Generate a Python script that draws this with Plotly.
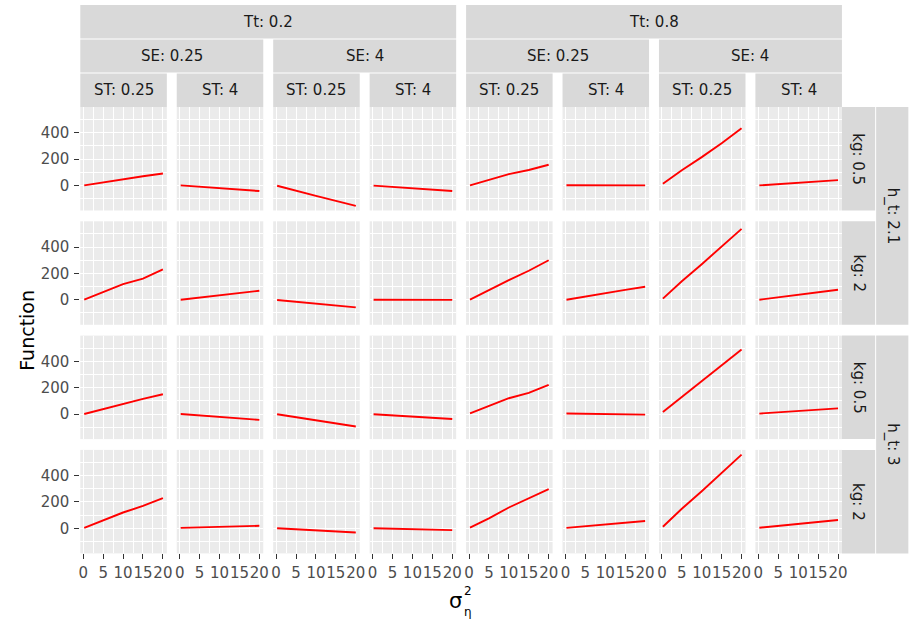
import plotly.graph_objects as go

# sigma_eta^2 sample points (x axis)
sigma_eta = [0.25, 5, 10, 15, 20]

# facet levels
tt_levels = ["0.2", "0.8"]
se_levels = ["0.25", "4"]
st_levels = ["0.25", "4"]
ht_levels = ["2.1", "3"]
kg_levels = ["0.5", "2"]

# Function values per panel row; columns ordered Tt > SE > ST
fn_ht21_kg05 = [
    [0, 24, 48, 70, 90],
    [0, -11, -22, -33, -43],
    [-3, -42, -80, -118, -155],
    [-2, -12, -22, -32, -42],
    [0, 44, 86, 117, 157],
    [1, 1, 0, 0, 0],
    [13, 115, 215, 321, 435],
    [0, 10, 20, 30, 40],
]
fn_ht21_kg2 = [
    [0, 60, 118, 160, 230],
    [0, 17, 34, 51, 68],
    [-2, -16, -30, -44, -58],
    [0, 0, -1, -1, -1],
    [0, 75, 148, 220, 300],
    [0, 25, 50, 75, 98],
    [8, 140, 270, 405, 538],
    [0, 19, 38, 57, 76],
]
fn_ht3_kg05 = [
    [0, 38, 78, 115, 150],
    [0, -12, -23, -34, -45],
    [-2, -25, -48, -72, -95],
    [-2, -11, -20, -29, -38],
    [5, 60, 120, 160, 222],
    [4, 2, 0, -2, -5],
    [15, 128, 245, 365, 490],
    [3, 13, 23, 33, 43],
]
fn_ht3_kg2 = [
    [3, 60, 120, 170, 230],
    [3, 7, 11, 15, 19],
    [0, -8, -16, -24, -32],
    [0, -4, -8, -11, -14],
    [5, 75, 158, 225, 298],
    [3, 16, 29, 42, 55],
    [12, 148, 282, 420, 560],
    [4, 19, 34, 49, 63],
]
rows = [fn_ht21_kg05, fn_ht21_kg2, fn_ht3_kg05, fn_ht3_kg2]

x_ticks = [0, 5, 10, 15, 20]
x_minor = [2.5, 7.5, 12.5, 17.5]
y_ticks = [0, 200, 400]
y_minor = [-100, 100, 300, 500]

# ---- geometry (pixels) ----
W, H = 909, 624
LEFT, COL_STEP, PW = 79, 97.3, 87.3
TOP, ROW_STEP, PH = 107, 114.3, 103.5
FONT = "DejaVu Sans"
STRIP_BG = "#D9D9D9"


def fx(px):
    return px / W


def fy(py):
    return 1 - py / H


# shared scales with 5% expansion, as ggplot does
all_vals = [v for r in rows for c in r for v in c]
ylo, yhi = min(all_vals), max(all_vals)
ypad = 0.05 * (yhi - ylo)
yrange = [ylo - ypad, yhi + ypad]
xlo, xhi = min(sigma_eta), max(sigma_eta)
xpad = 0.05 * (xhi - xlo)
xrange = [xlo - xpad, xhi + xpad]

fig = go.Figure()
layout = {}
tick_font = dict(family=FONT, size=15, color="#4D4D4D")

for r in range(4):
    for c in range(8):
        idx = r * 8 + c + 1
        sfx = "" if idx == 1 else str(idx)
        fig.add_trace(go.Scatter(
            x=sigma_eta, y=rows[r][c], mode="lines",
            line=dict(color="#FF0000", width=1.9),
            xaxis="x" + sfx, yaxis="y" + sfx, showlegend=False,
            hoverinfo="skip",
        ))
        x0 = LEFT + c * COL_STEP
        y0 = TOP + r * ROW_STEP
        layout["xaxis" + sfx] = dict(
            domain=[fx(x0), fx(x0 + PW)], anchor="y" + sfx, range=xrange,
            tickmode="array", tickvals=x_ticks, ticktext=[str(t) for t in x_ticks],
            showticklabels=(r == 3), ticks="outside" if r == 3 else "",
            ticklen=5, tickwidth=1.1, tickcolor="#333333", tickangle=0,
            ticklabelstandoff=1,
            tickfont=tick_font, showgrid=True, gridcolor="white", gridwidth=1.4,
            minor=dict(tickmode="array", tickvals=x_minor, showgrid=True,
                       gridcolor="white", gridwidth=0.7, ticks=""),
            zeroline=False, showline=False, fixedrange=True,
        )
        layout["yaxis" + sfx] = dict(
            domain=[fy(y0 + PH), fy(y0)], anchor="x" + sfx, range=yrange,
            tickmode="array", tickvals=y_ticks, ticktext=[str(t) for t in y_ticks],
            showticklabels=(c == 0), ticks="outside" if c == 0 else "",
            ticklen=5, tickwidth=1.1, tickcolor="#333333",
            ticklabelstandoff=2,
            tickfont=tick_font, showgrid=True, gridcolor="white", gridwidth=1.4,
            minor=dict(tickmode="array", tickvals=y_minor, showgrid=True,
                       gridcolor="white", gridwidth=0.7, ticks=""),
            zeroline=False, showline=False, fixedrange=True,
        )

shapes = []
annotations = []
strip_font = dict(family=FONT, size=15, color="#1A1A1A")


def strip(x0, x1, y0, y1, text, angle=0):
    shapes.append(dict(type="rect", xref="paper", yref="paper",
                       x0=fx(x0), x1=fx(x1), y0=fy(y1), y1=fy(y0),
                       fillcolor=STRIP_BG, line=dict(width=0), layer="below"))
    annotations.append(dict(xref="paper", yref="paper",
                            x=fx((x0 + x1) / 2), y=fy((y0 + y1) / 2),
                            text=text, showarrow=False, textangle=angle,
                            font=strip_font, xanchor="center", yanchor="middle"))


# column strips: Tt / SE / ST
for t, tt in enumerate(tt_levels):
    c0 = 4 * t
    strip(LEFT + c0 * COL_STEP, LEFT + (c0 + 3) * COL_STEP + PW, 5, 38.5, f"Tt: {tt}")
    for s, se in enumerate(se_levels):
        c1 = c0 + 2 * s
        strip(LEFT + c1 * COL_STEP, LEFT + (c1 + 1) * COL_STEP + PW, 39.5, 72.5, f"SE: {se}")
        for k, st in enumerate(st_levels):
            cc = c1 + k
            strip(LEFT + cc * COL_STEP, LEFT + cc * COL_STEP + PW, 73.5, TOP, f"ST: {st}")

# row strips: kg / h_t
RIGHT = LEFT + 7 * COL_STEP + PW
for h, ht in enumerate(ht_levels):
    r0 = 2 * h
    strip(RIGHT + 34.5, RIGHT + 67, TOP + r0 * ROW_STEP,
          TOP + (r0 + 1) * ROW_STEP + PH, f"h_t: {ht}", 90)
    for g, kg in enumerate(kg_levels):
        rr = r0 + g
        strip(RIGHT, RIGHT + 33.5, TOP + rr * ROW_STEP,
              TOP + rr * ROW_STEP + PH, f"kg: {kg}", 90)

# axis titles
annotations.append(dict(xref="paper", yref="paper", x=fx(25), y=fy(330),
                        text="Function", showarrow=False, textangle=-90,
                        font=dict(family=FONT, size=19, color="black"),
                        xanchor="center", yanchor="middle"))
annotations.append(dict(xref="paper", yref="paper", x=fx(458), y=fy(601),
                        text="σ", showarrow=False,
                        font=dict(family=FONT, size=21, color="black"),
                        xanchor="center", yanchor="middle"))
annotations.append(dict(xref="paper", yref="paper", x=fx(470), y=fy(591),
                        text="2", showarrow=False,
                        font=dict(family=FONT, size=12, color="black"),
                        xanchor="center", yanchor="middle"))
annotations.append(dict(xref="paper", yref="paper", x=fx(470), y=fy(612),
                        text="η", showarrow=False,
                        font=dict(family=FONT, size=12, color="black"),
                        xanchor="center", yanchor="middle"))

fig.update_layout(
    width=W, height=H, autosize=False,
    margin=dict(l=0, r=0, t=0, b=0),
    paper_bgcolor="white", plot_bgcolor="#EBEBEB",
    shapes=shapes, annotations=annotations, showlegend=False,
    **layout,
)

fig.write_html("out.html")
